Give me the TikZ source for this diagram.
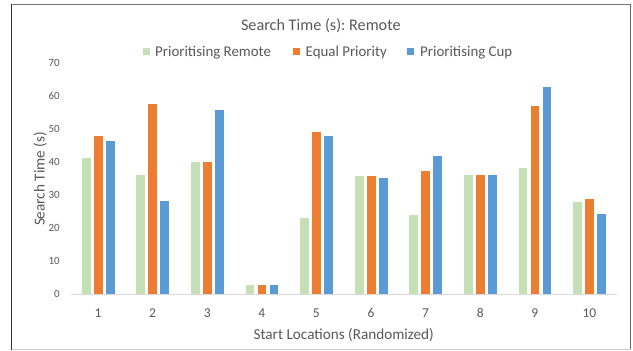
\documentclass[tikz,border=0pt]{standalone}
\usepackage{fontspec}
\setmainfont{Carlito}
\frenchspacing
\definecolor{cgreen}{HTML}{C5E0B4}
\definecolor{corange}{HTML}{ED7D31}
\definecolor{cblue}{HTML}{5B9BD5}
\definecolor{ctext}{HTML}{595959}
\definecolor{caxis}{HTML}{D9D9D9}
\begin{document}
\begin{tikzpicture}[x=1pt,y=-1pt,
  bar/.style={draw=white,line width=0.5pt},
  lbl/.style={inner sep=0pt,text=ctext},
  titlefont/.style={lbl,font=\fontsize{16.2}{19}\selectfont},
  legfont/.style={lbl,font=\fontsize{14.9}{18}\selectfont},
  axtitle/.style={lbl,font=\fontsize{15.2}{18}\selectfont},
  xtick/.style={lbl,font=\fontsize{13.5}{16}\selectfont},
  ytick/.style={lbl,font=\fontsize{11}{13}\selectfont},
  legsq/.style={inner sep=0pt,minimum size=7pt}]
\useasboundingbox[fill=white] (0,0) rectangle (633,351);
% frame
\draw[line width=1pt,color=black!55] (11,4.5) -- (630.5,4.5);
\draw[line width=1.5pt,color=black!60] (630.5,4.5) -- (630.5,349.5);
\draw[line width=1pt,color=black!20] (11,349.5) -- (630.5,349.5);
\draw[line width=1.2pt,color=black!80] (11.3,4) -- (11.3,350);
% title
\node[titlefont,anchor=base] (title) at (320.8,30) {Search Time (s): Remote};
% legend
\node[legsq,fill=cgreen] (sqg) at (146,51) {};
\node[legfont,anchor=base west] (lg) at (155,56) {Prioritising Remote};
\node[legsq,fill=corange] (sqo) at (296.7,51) {};
\node[legfont,anchor=base west] (lo) at (305.5,56) {Equal Priority};
\node[legsq,fill=cblue] (sqb) at (410.7,51) {};
\node[legfont,anchor=base west] (lb) at (420,56) {Prioritising Cup};
% y ticks
\foreach \v in {0,10,...,70}{
  \node[ytick,anchor=east] (yt\v) at (60,{294-3.296*\v}) {\v};
}
% bars
\foreach \i/\g/\o/\b in {1/41.6/48.1/46.7, 2/36.2/57.9/28.5, 3/40.4/40.4/56.0,
  4/3.1/3.1/3.1, 5/23.4/49.4/48.2, 6/36.1/36.1/35.4, 7/24.3/37.5/42.0,
  8/36.4/36.4/36.3, 9/38.4/57.3/63.1, 10/28.0/29.1/24.5}{
  \pgfmathsetmacro{\c}{70.7+54.6*(\i-0.5)}
  \fill[bar,fill=cgreen] ({\c-12-4.9},294) rectangle ({\c-12+4.9},{294-3.296*\g});
  \fill[bar,fill=corange] ({\c-4.9},294) rectangle ({\c+4.9},{294-3.296*\o});
  \fill[bar,fill=cblue] ({\c+12-4.9},294) rectangle ({\c+12+4.9},{294-3.296*\b});
  \node[xtick] (xt\i) at (\c,313) {\i};
}
% baseline
\draw[line width=1pt,color=caxis] (71,294.5) -- (617,294.5);
% axis titles
\node[axtitle,anchor=base] (xtitle) at (343.7,339.3) {Start Locations (Randomized)};
\node[axtitle,rotate=90] (ytitle) at (40,179) {Search Time (s)};
\end{tikzpicture}
\end{document}
